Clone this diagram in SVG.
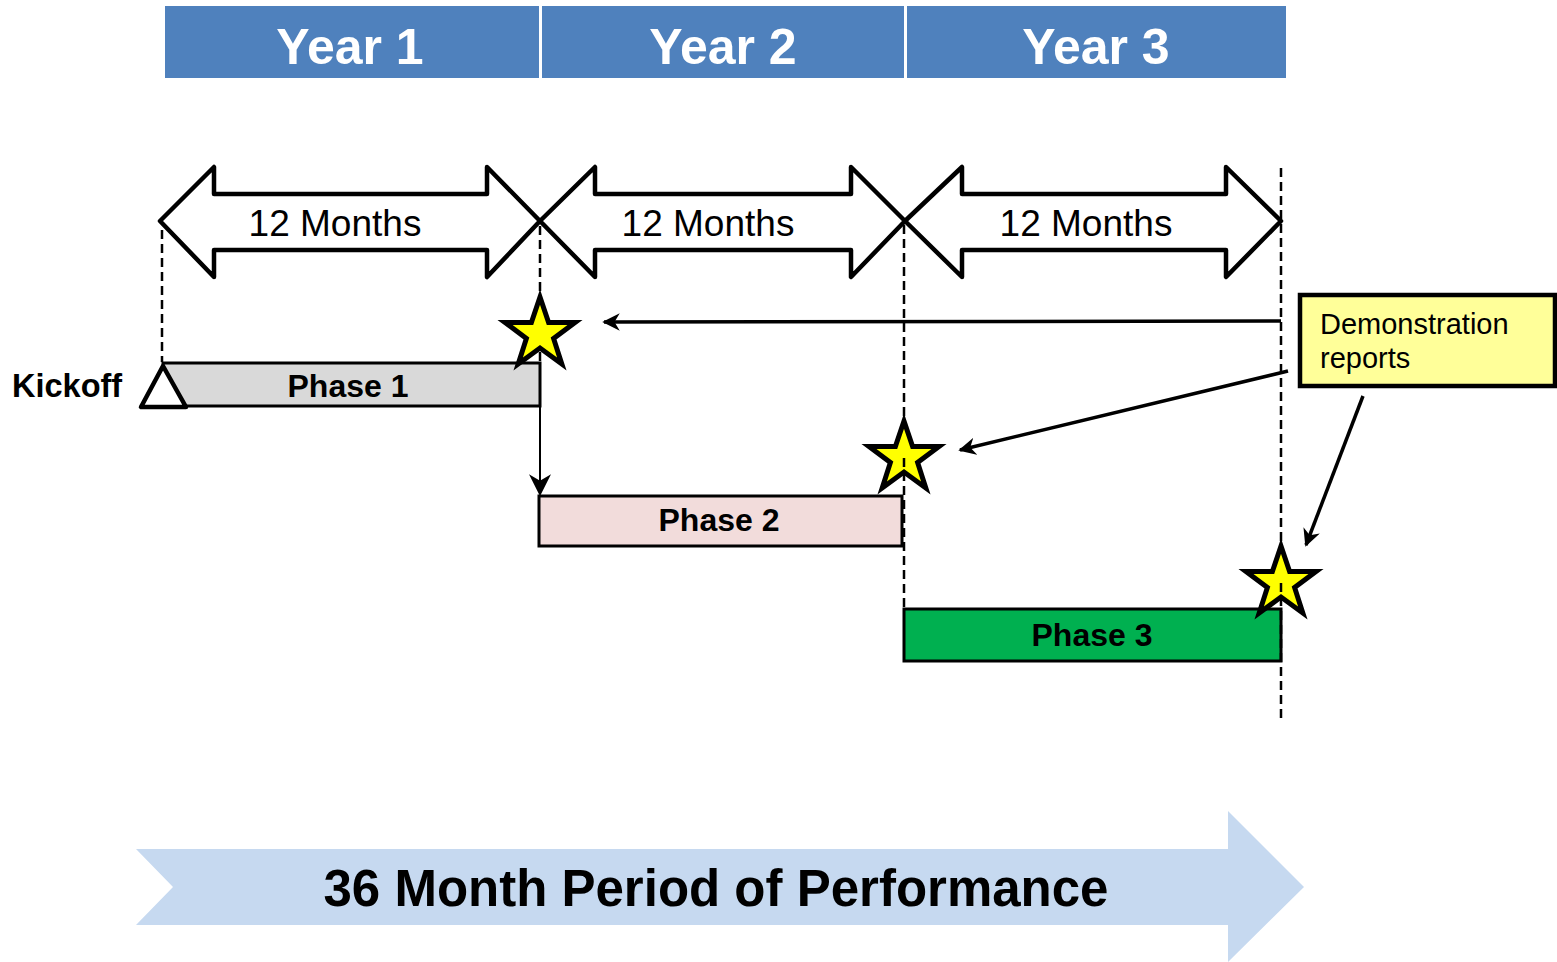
<svg xmlns="http://www.w3.org/2000/svg" width="1557" height="962" viewBox="0 0 1557 962">
<defs>
<style>
.year{fill:#4F81BD}
.yt{font-family:"Liberation Sans",Arial,sans-serif;font-weight:bold;font-size:50px;fill:#fff;text-anchor:middle}
.dbl{fill:#fff;stroke:#000;stroke-width:4.5;stroke-linejoin:round}
.mt{font-family:"Liberation Sans",Arial,sans-serif;font-size:37px;fill:#000;text-anchor:middle}
.dash{stroke:#000;stroke-width:2.5;stroke-dasharray:9,5;fill:none}
.bar{stroke:#000;stroke-width:3}
.pt{font-family:"Liberation Sans",Arial,sans-serif;font-weight:bold;font-size:32px;fill:#000;text-anchor:middle}
.star{fill:#FFFF00;stroke:#000;stroke-width:5;stroke-linejoin:miter}
.conn{stroke:#000;stroke-width:3.5;fill:none}
.dt{font-family:"Liberation Sans",Arial,sans-serif;font-size:29px;fill:#000}
</style>
<marker id="ah" viewBox="0 0 10 10" refX="9" refY="5" markerWidth="5" markerHeight="5" orient="auto" markerUnits="strokeWidth">
<path d="M0,0 L10,5 L0,10 L3,5 z" fill="#000"/>
</marker>
<marker id="vh" viewBox="0 0 10 10" refX="9" refY="5" markerWidth="11" markerHeight="11" orient="auto" markerUnits="strokeWidth">
<path d="M0,0 L10,5 L0,10 L3,5 z" fill="#000"/>
</marker>
<polygon id="starShape" points="0,-37 8.6,-11.5 35,-11.5 13.6,4.4 21.8,30 0,14 -21.8,30 -13.6,4.4 -35,-11.5 -8.6,-11.5"/>
</defs>

<g id="header">
<g id="year1"><rect class="year" x="165" y="6" width="374" height="72"/><text class="yt" x="350" y="64">Year 1</text></g>
<g id="year2"><rect class="year" x="542" y="6" width="362" height="72"/><text class="yt" x="723" y="64">Year 2</text></g>
<g id="year3"><rect class="year" x="907" y="6" width="379" height="72"/><text class="yt" x="1096" y="64">Year 3</text></g>
</g>

<g id="dashes">
<line class="dash" x1="162" y1="230" x2="162" y2="362"/>
<line class="dash" x1="540" y1="226" x2="540" y2="298"/>
<line class="dash" x1="540" y1="352" x2="540" y2="362"/>
</g>

<g id="months">
<g id="m1"><path class="dbl" d="M160,221 L214,167 L214,194 L487,194 L487,167 L540,221 L487,277 L487,250 L214,250 L214,277 Z"/><text class="mt" x="335" y="236">12 Months</text></g>
<g id="m2"><path class="dbl" d="M540,221 L595,167 L595,194 L851,194 L851,167 L905,221 L851,277 L851,250 L595,250 L595,277 Z"/><text class="mt" x="708" y="236">12 Months</text></g>
<g id="m3"><path class="dbl" d="M905,221 L962,167 L962,194 L1226,194 L1226,167 L1281,221 L1226,277 L1226,250 L962,250 L962,277 Z"/><text class="mt" x="1086" y="236">12 Months</text></g>
</g>

<g id="phase1"><rect class="bar" x="163" y="363" width="377" height="43" fill="#D9D9D9"/><text class="pt" x="348" y="397">Phase 1</text></g>
<g id="phase2"><rect class="bar" x="539" y="496" width="363" height="50" fill="#F2DCDB"/><text class="pt" x="719" y="531">Phase 2</text></g>
<g id="phase3"><rect class="bar" x="904" y="609" width="377" height="52" fill="#00B050"/><text class="pt" x="1092" y="646">Phase 3</text></g>

<g id="kickoff">
<polygon points="163,366 141,407 186,407" fill="#fff" stroke="#000" stroke-width="4.5" stroke-linejoin="round"/>
<text x="12" y="397" font-family="'Liberation Sans',Arial,sans-serif" font-weight="bold" font-size="32.5" fill="#000">Kickoff</text>
</g>

<g id="star1"><use href="#starShape" class="star" x="540" y="334"/></g>
<g id="star2"><use href="#starShape" class="star" x="904" y="458"/></g>
<g id="star3"><use href="#starShape" class="star" x="1281" y="583"/></g>

<g id="dashes2">
<line class="dash" x1="904" y1="225" x2="904" y2="420"/>
<line class="dash" x1="904" y1="458" x2="904" y2="609"/>
<line class="dash" x1="1281" y1="168" x2="1281" y2="545"/>
<line class="dash" x1="1281" y1="583" x2="1281" y2="722"/>
</g>

<g id="demo">
<rect x="1300" y="295" width="255" height="91" fill="#FFFF99" stroke="#000" stroke-width="4.5"/>
<text class="dt" x="1320" y="334">Demonstration</text>
<text class="dt" x="1320" y="368">reports</text>
</g>

<g id="connectors">
<line class="conn" x1="1281" y1="321" x2="604" y2="322" marker-end="url(#ah)"/>
<line class="conn" x1="1288" y1="371" x2="960" y2="450" marker-end="url(#ah)"/>
<line class="conn" x1="1363" y1="396" x2="1306" y2="545" marker-end="url(#ah)"/>
<line x1="540" y1="406" x2="540" y2="494" stroke="#000" stroke-width="2" marker-end="url(#vh)"/>
</g>

<g id="period">
<polygon points="136,849 1228,849 1228,811 1304,887 1228,962 1228,925 136,925 173,887" fill="#C6D9F0"/>
<text x="716" y="906" font-family="'Liberation Sans',Arial,sans-serif" font-weight="bold" font-size="51" fill="#000" text-anchor="middle">36 Month Period of Performance</text>
</g>
</svg>
